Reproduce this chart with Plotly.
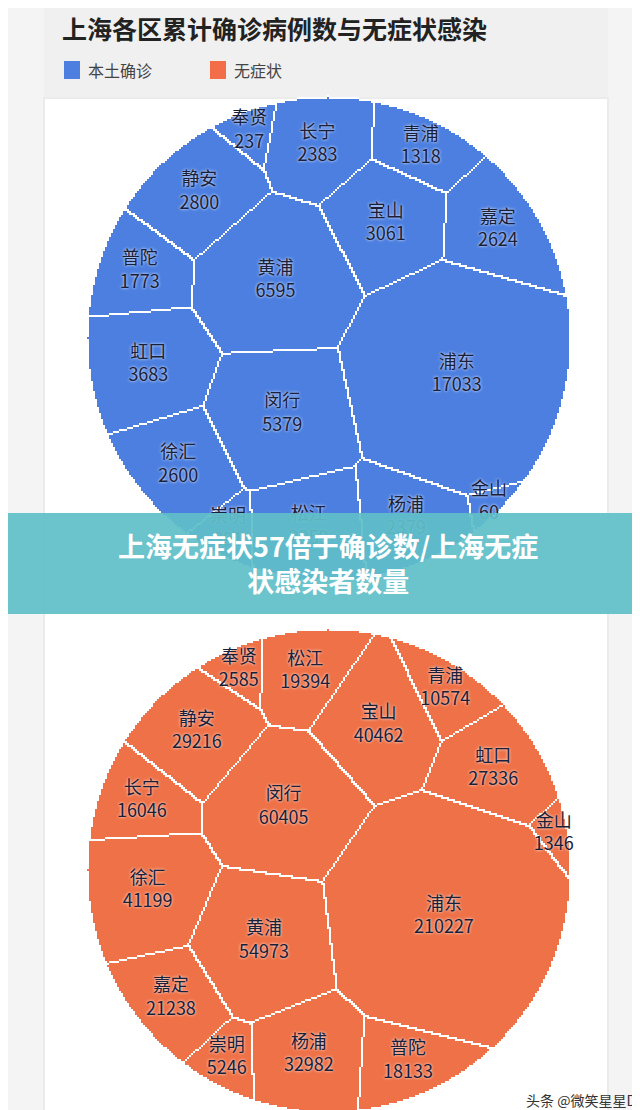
import numpy as np
import plotly.graph_objects as go

# ---- data ----
confirmed_districts = ["浦东", "黄浦", "闵行", "虹口", "宝山", "松江", "嘉定", "静安", "徐汇", "长宁", "杨浦", "普陀", "青浦", "崇明", "奉贤", "金山"]
confirmed_values = [17033, 6595, 5379, 3683, 3061, 2959, 2624, 2800, 2600, 2383, 2379, 1773, 1318, 391, 237, 60]
asym_districts = ["浦东", "闵行", "黄浦", "宝山", "徐汇", "杨浦", "静安", "虹口", "嘉定", "松江", "普陀", "长宁", "青浦", "崇明", "奉贤", "金山"]
asym_values = [210227, 60405, 54973, 40462, 41199, 32982, 29216, 27336, 21238, 19394, 18133, 16046, 10574, 5246, 2585, 1346]

BLUE = "#4C7FE0"
ORANGE = "#EE7147"


def voronoi_treemap(values, cx, cy, R, step=2.0, iters=80):
    vals = np.array(values, float)
    n = len(vals)
    target_w = vals ** 0.8 + 0.02 * vals.max() ** 0.8
    xs = np.arange(cx - R, cx + R + step, step)
    ys = np.arange(cy - R, cy + R + step, step)
    X, Y = np.meshgrid(xs, ys)
    inside = (X - cx) ** 2 + (Y - cy) ** 2 <= R ** 2
    px, py = X[inside], Y[inside]
    total = inside.sum()
    T = target_w / target_w.sum() * total
    order = np.argsort(-vals)
    sx = np.zeros(n); sy = np.zeros(n)
    for k, i in enumerate(order):
        if k == 0:
            r, a = R * 0.35, 0.4
        else:
            r = R * 0.8 * np.sqrt((k + 0.5) / n)
            a = k * 2.39996 + 2.0
        sx[i] = cx + r * np.cos(a); sy[i] = cy + r * np.sin(a)
    w = np.zeros(n)
    for it in range(iters):
        d = (px[:, None] - sx[None]) ** 2 + (py[:, None] - sy[None]) ** 2 - w[None]
        lab = d.argmin(1)
        A = np.bincount(lab, minlength=n).astype(float)
        for i in range(n):
            if A[i] > 0:
                m = lab == i
                sx[i] = 0.7 * sx[i] + 0.3 * px[m].mean()
                sy[i] = 0.7 * sy[i] + 0.3 * py[m].mean()
        w += 0.3 * (T - A) / total * R ** 2
        w -= w.mean()
    d = (px[:, None] - sx[None]) ** 2 + (py[:, None] - sy[None]) ** 2 - w[None]
    lab = d.argmin(1)
    grid = np.full(X.shape, -1)
    grid[inside] = lab
    z = np.full(X.shape, np.nan)
    z[inside] = 1.0
    b = np.zeros(X.shape, bool)
    b[:, 1:] |= (grid[:, 1:] != grid[:, :-1])
    b[1:, :] |= (grid[1:, :] != grid[:-1, :])
    z[b & inside] = 0.0
    cxs, cys = [], []
    for i in range(n):
        m = lab == i
        cxs.append(px[m].mean() if m.any() else sx[i]); cys.append(py[m].mean() if m.any() else sy[i])
    return xs, ys, z, cxs, cys


fig = go.Figure()
for names, vals, cy, col in [(confirmed_districts, confirmed_values, 330, BLUE),
                             (asym_districts, asym_values, 862, ORANGE)]:
    xs, ys, z, lx, ly = voronoi_treemap(vals, 320, cy, 242)
    fig.add_trace(go.Heatmap(x=xs, y=ys, z=z, colorscale=[[0, "#ffffff"], [1, col]],
                             zmin=0, zmax=1, showscale=False, hoverinfo="skip"))
    fig.add_trace(go.Scatter(x=lx, y=ly, mode="text",
                             text=[f"{a}<br>{v}" for a, v in zip(names, vals)],
                             textfont=dict(size=18, color="#18203a", family="Noto Sans CJK SC",
                                           shadow="0px 0px 3px white"),
                             hoverinfo="skip", showlegend=False))

shapes = [
    dict(type="rect", xref="x", yref="y", x0=36, x1=600, y0=0, y1=90, fillcolor="#f0f0f0", line_width=0, layer="below"),
    dict(type="rect", xref="x", yref="y", x0=36, x1=600, y0=90, y1=1112, fillcolor="white", line=dict(color="#ebebeb", width=2), layer="below"),
    dict(type="rect", xref="x", yref="y", x0=56, x1=72, y0=53, y1=71, fillcolor=BLUE, line_width=0),
    dict(type="rect", xref="x", yref="y", x0=202, x1=218, y0=53, y1=71, fillcolor="#F36E48", line_width=0),
    dict(type="rect", xref="x", yref="y", x0=0, x1=640, y0=505, y1=606, fillcolor="rgba(96,190,200,0.93)", line_width=0, layer="above"),
]
ann = [
    dict(x=52, y=20, text="<b>上海各区累计确诊病例数与无症状感染</b>", showarrow=False, xanchor="left", font=dict(size=25, color="#222")),
    dict(x=78, y=62, text="本土确诊", showarrow=False, xanchor="left", font=dict(size=16, color="#444")),
    dict(x=224, y=62, text="无症状", showarrow=False, xanchor="left", font=dict(size=16, color="#444")),
    dict(x=320, y=555, text="<b>上海无症状57倍于确诊数/上海无症<br>状感染者数量</b>", showarrow=False,
         font=dict(size=27, color="white"), align="center"),
    dict(x=630, y=1092, text="头条 @微笑星星D", showarrow=False, xanchor="right", font=dict(size=14, color="#333")),
]
fig.update_layout(width=640, height=1110, margin=dict(l=0, r=0, t=0, b=0),
                  paper_bgcolor="#f4f4f4", plot_bgcolor="#f4f4f4", showlegend=False,
                  font=dict(family="Noto Sans CJK SC"),
                  xaxis=dict(range=[0, 640], visible=False, fixedrange=True),
                  yaxis=dict(range=[1110, 0], visible=False, fixedrange=True),
                  shapes=shapes, annotations=ann)
fig.write_html("out.html")
